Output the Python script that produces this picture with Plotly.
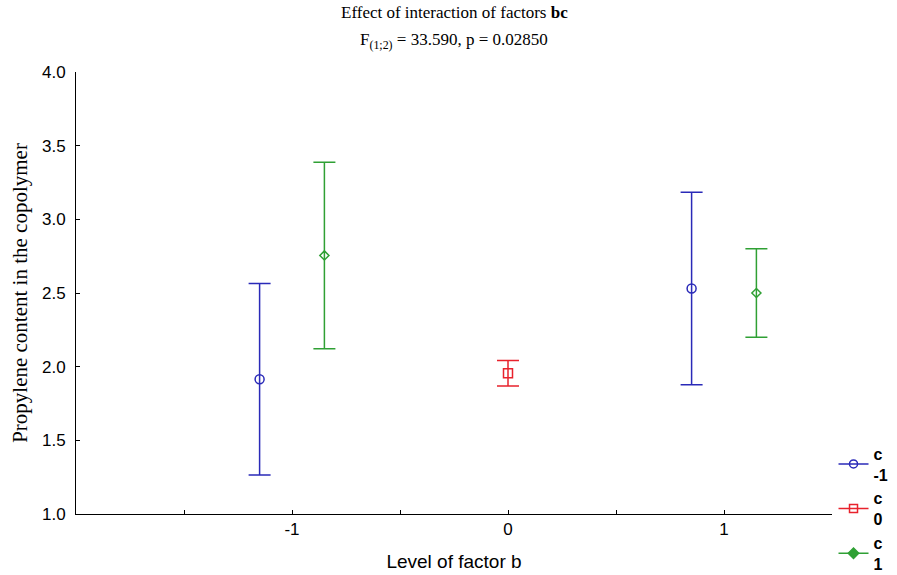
import plotly.graph_objects as go

# Data
b_levels = [-1, 0, 1]
series_names = ["<b>c</b><br><b>-1</b>", "<b>c</b><br><b>0</b>", "<b>c</b><br><b>1</b>"]
c_m1_x = [-1, 1]
c_m1_mean = [1.915, 2.53]
c_m1_err = [0.65, 0.653]
c_0_x = [0]
c_0_mean = [1.955]
c_0_err = [0.087]
c_1_x = [-1, 1]
c_1_mean = [2.755, 2.50]
c_1_err = [0.633, 0.30]
offsets = [-0.15, 0.0, 0.15]

colors = ["#2a2ab8", "#e8222c", "#2fa034"]
symbols = ["circle-open", "square-open", "diamond-open"]
legend_symbols = ["circle-open", "square-open", "diamond"]

fig = go.Figure()
groups = [(c_m1_x, c_m1_mean, c_m1_err), (c_0_x, c_0_mean, c_0_err), (c_1_x, c_1_mean, c_1_err)]
for i, (xs, ms, es) in enumerate(groups):
    fig.add_trace(go.Scatter(
        x=[x + offsets[i] for x in xs], y=ms,
        mode="markers",
        showlegend=False,
        marker=dict(symbol=symbols[i], size=9 if i < 2 else 7, color=colors[i],
                    line=dict(color=colors[i], width=1.5)),
        error_y=dict(type="data", array=es, visible=True, color=colors[i],
                     thickness=1.5, width=11),
    ))
    # legend-only entry
    fig.add_trace(go.Scatter(
        x=[None], y=[None], mode="lines+markers", name=series_names[i],
        line=dict(color=colors[i], width=1.5),
        marker=dict(symbol=legend_symbols[i], size=8, color=colors[i],
                    line=dict(color=colors[i], width=1.5)),
    ))

fig.update_layout(
    width=897, height=575,
    plot_bgcolor="white", paper_bgcolor="white",
    margin=dict(l=76, r=65, t=72, b=61, autoexpand=False),
    xaxis=dict(
        range=[-2, 1.5], tickvals=[-1.5, -1, -0.5, 0, 0.5, 1, 1.5],
        ticktext=["", "-1", "", "0", "", "1", ""],
        ticks="inside", ticklen=4, tickcolor="black",
        showline=True, linecolor="black", linewidth=1, showgrid=False, zeroline=False,
        tickfont=dict(family="Liberation Sans", size=17, color="black"),
        title=dict(text="Level of factor b", standoff=16,
                   font=dict(family="Liberation Sans", size=19, color="black")),
    ),
    yaxis=dict(
        range=[1.0, 4.0], tickvals=[1.0, 1.5, 2.0, 2.5, 3.0, 3.5, 4.0],
        ticktext=["1.0", "1.5", "2.0", "2.5", "3.0", "3.5", "4.0"],
        ticks="inside", ticklen=4, tickcolor="black", ticklabelstandoff=6,
        showline=True, linecolor="black", linewidth=1, showgrid=False, zeroline=False,
        tickfont=dict(family="Liberation Sans", size=17, color="black"),
        title=dict(text="Propylene content in the copolymer", standoff=8,
                   font=dict(family="Liberation Serif", size=21, color="black")),
    ),
    legend=dict(
        x=1.002, xanchor="left", y=0.175, yanchor="top",
        font=dict(family="Liberation Sans", size=16, color="black"),
        bgcolor="rgba(0,0,0,0)", tracegroupgap=0, itemwidth=30,
    ),
    showlegend=True,
    annotations=[
        dict(text="Effect of interaction of factors <b>bc</b>", xref="paper", yref="paper",
             x=0.5, y=1.135, xanchor="center", yanchor="middle", showarrow=False,
             font=dict(family="Liberation Serif", size=17, color="black")),
        dict(text="F<sub>(1;2)</sub> = 33.590, p = 0.02850", xref="paper", yref="paper",
             x=0.5, y=1.07, xanchor="center", yanchor="middle", showarrow=False,
             font=dict(family="Liberation Serif", size=17, color="black")),
    ],
)

fig.write_html("out.html", config={"displayModeBar": False},
               post_script="document.body.style.margin='0';")
